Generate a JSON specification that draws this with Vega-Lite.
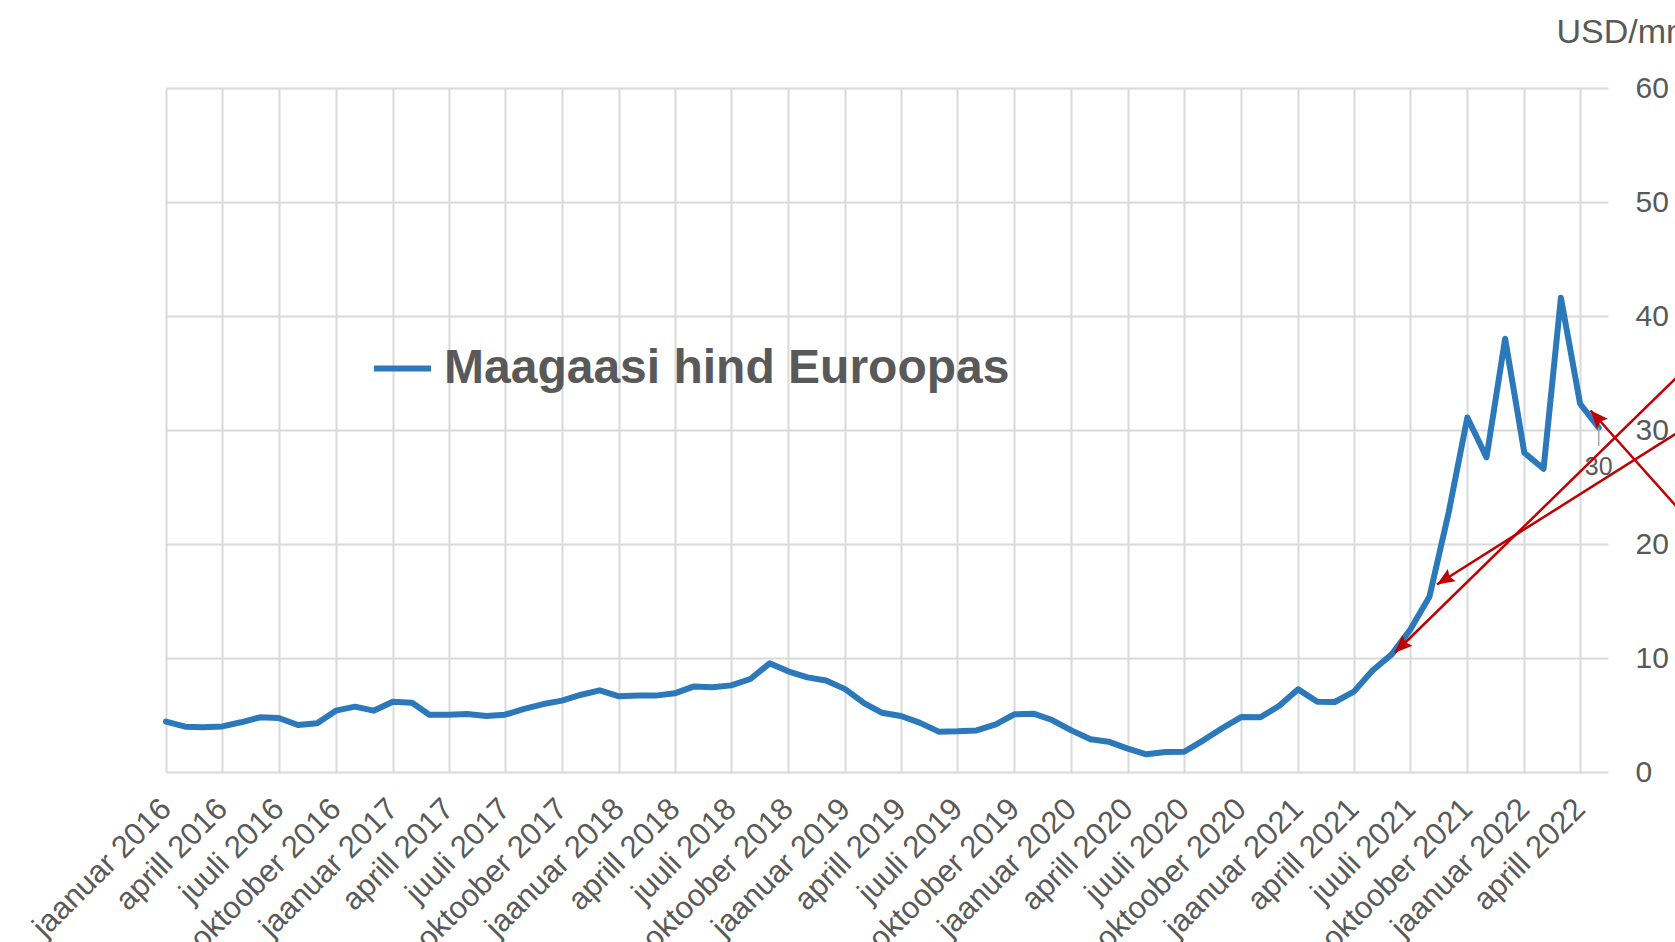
{
  "$schema": "https://vega.github.io/schema/vega-lite/v6.json",
  "width": 1442,
  "height": 684,
  "autosize": {"type": "none"},
  "padding": {"left": 166, "top": 88, "right": 67, "bottom": 170},
  "background": "white",
  "config": {"view": {"stroke": null}, "font": "Liberation Sans"},
  "datasets": {
    "prices": [
      {"date": "2016-01-01", "price": 4.42}, {"date": "2016-02-01", "price": 3.98}, {"date": "2016-03-01", "price": 3.92},
      {"date": "2016-04-01", "price": 4.0}, {"date": "2016-05-01", "price": 4.36}, {"date": "2016-06-01", "price": 4.8},
      {"date": "2016-07-01", "price": 4.74}, {"date": "2016-08-01", "price": 4.12}, {"date": "2016-09-01", "price": 4.27},
      {"date": "2016-10-01", "price": 5.38}, {"date": "2016-11-01", "price": 5.73}, {"date": "2016-12-01", "price": 5.38},
      {"date": "2017-01-01", "price": 6.17}, {"date": "2017-02-01", "price": 6.08}, {"date": "2017-03-01", "price": 5.03},
      {"date": "2017-04-01", "price": 5.03}, {"date": "2017-05-01", "price": 5.09}, {"date": "2017-06-01", "price": 4.91},
      {"date": "2017-07-01", "price": 5.03}, {"date": "2017-08-01", "price": 5.53}, {"date": "2017-09-01", "price": 5.96},
      {"date": "2017-10-01", "price": 6.26}, {"date": "2017-11-01", "price": 6.78}, {"date": "2017-12-01", "price": 7.16},
      {"date": "2018-01-01", "price": 6.64}, {"date": "2018-02-01", "price": 6.7}, {"date": "2018-03-01", "price": 6.7},
      {"date": "2018-04-01", "price": 6.9}, {"date": "2018-05-01", "price": 7.49}, {"date": "2018-06-01", "price": 7.43},
      {"date": "2018-07-01", "price": 7.6}, {"date": "2018-08-01", "price": 8.16}, {"date": "2018-09-01", "price": 9.53},
      {"date": "2018-10-01", "price": 8.83}, {"date": "2018-11-01", "price": 8.3}, {"date": "2018-12-01", "price": 8.02},
      {"date": "2019-01-01", "price": 7.27}, {"date": "2019-02-01", "price": 6.02}, {"date": "2019-03-01", "price": 5.2},
      {"date": "2019-04-01", "price": 4.91}, {"date": "2019-05-01", "price": 4.33}, {"date": "2019-06-01", "price": 3.54},
      {"date": "2019-07-01", "price": 3.57}, {"date": "2019-08-01", "price": 3.65}, {"date": "2019-09-01", "price": 4.18},
      {"date": "2019-10-01", "price": 5.06}, {"date": "2019-11-01", "price": 5.12}, {"date": "2019-12-01", "price": 4.56},
      {"date": "2020-01-01", "price": 3.65}, {"date": "2020-02-01", "price": 2.87}, {"date": "2020-03-01", "price": 2.66},
      {"date": "2020-04-01", "price": 2.05}, {"date": "2020-05-01", "price": 1.55}, {"date": "2020-06-01", "price": 1.75},
      {"date": "2020-07-01", "price": 1.78}, {"date": "2020-08-01", "price": 2.78}, {"date": "2020-09-01", "price": 3.86},
      {"date": "2020-10-01", "price": 4.82}, {"date": "2020-11-01", "price": 4.8}, {"date": "2020-12-01", "price": 5.79},
      {"date": "2021-01-01", "price": 7.25}, {"date": "2021-02-01", "price": 6.17}, {"date": "2021-03-01", "price": 6.14},
      {"date": "2021-04-01", "price": 7.05}, {"date": "2021-05-01", "price": 8.9}, {"date": "2021-06-01", "price": 10.32},
      {"date": "2021-07-01", "price": 12.5}, {"date": "2021-08-01", "price": 15.4}, {"date": "2021-09-01", "price": 22.8},
      {"date": "2021-10-01", "price": 31.1}, {"date": "2021-11-01", "price": 27.6}, {"date": "2021-12-01", "price": 38.0},
      {"date": "2022-01-01", "price": 28.0}, {"date": "2022-02-01", "price": 26.6}, {"date": "2022-03-01", "price": 41.6},
      {"date": "2022-04-01", "price": 32.3}, {"date": "2022-05-01", "price": 30.2}
    ],
    "arrows": [
      {"id": 1, "start": "2022-10-11", "startValue": 36.6, "tip": "2021-06-06", "tipValue": 10.46},
      {"id": 2, "start": "2022-10-11", "startValue": 30.99, "tip": "2021-08-13", "tipValue": 16.45},
      {"id": 3, "start": "2022-10-11", "startValue": 21.0, "tip": "2022-04-18", "tipValue": 31.71}
    ]
  },
  "layer": [
    {
      "data": {"name": "prices", "format": {"parse": {"date": "date"}}},
      "mark": {"type": "line", "strokeWidth": 6, "strokeJoin": "round", "strokeCap": "round"},
      "encoding": {
        "x": {
          "field": "date", "type": "temporal",
          "scale": {"type": "utc", "domain": [{"year": 2016, "month": 1, "date": 1, "utc": true}, {"year": 2022, "month": 5, "date": 16, "utc": true}]},
          "axis": {
            "title": null, "grid": true, "gridColor": "#D9D9D9", "gridWidth": 2, "domain": false, "ticks": false, "tickSize": 0,
            "labelAngle": -45, "labelAlign": "right", "labelBaseline": "middle", "labelPadding": 32, "labelFontSize": 31,
            "labelColor": "#595959", "labelOverlap": false, "labelBound": false, "labelFlush": false, "labelLimit": 1000,
            "values": [
              {"year": 2016, "month": 1, "date": 1, "utc": true}, {"year": 2016, "month": 4, "date": 1, "utc": true},
              {"year": 2016, "month": 7, "date": 1, "utc": true}, {"year": 2016, "month": 10, "date": 1, "utc": true},
              {"year": 2017, "month": 1, "date": 1, "utc": true}, {"year": 2017, "month": 4, "date": 1, "utc": true},
              {"year": 2017, "month": 7, "date": 1, "utc": true}, {"year": 2017, "month": 10, "date": 1, "utc": true},
              {"year": 2018, "month": 1, "date": 1, "utc": true}, {"year": 2018, "month": 4, "date": 1, "utc": true},
              {"year": 2018, "month": 7, "date": 1, "utc": true}, {"year": 2018, "month": 10, "date": 1, "utc": true},
              {"year": 2019, "month": 1, "date": 1, "utc": true}, {"year": 2019, "month": 4, "date": 1, "utc": true},
              {"year": 2019, "month": 7, "date": 1, "utc": true}, {"year": 2019, "month": 10, "date": 1, "utc": true},
              {"year": 2020, "month": 1, "date": 1, "utc": true}, {"year": 2020, "month": 4, "date": 1, "utc": true},
              {"year": 2020, "month": 7, "date": 1, "utc": true}, {"year": 2020, "month": 10, "date": 1, "utc": true},
              {"year": 2021, "month": 1, "date": 1, "utc": true}, {"year": 2021, "month": 4, "date": 1, "utc": true},
              {"year": 2021, "month": 7, "date": 1, "utc": true}, {"year": 2021, "month": 10, "date": 1, "utc": true},
              {"year": 2022, "month": 1, "date": 1, "utc": true}, {"year": 2022, "month": 4, "date": 1, "utc": true}
            ],
            "labelExpr": "['jaanuar','veebruar','märts','aprill','mai','juuni','juuli','august','september','oktoober','november','detsember'][utcmonth(datum.value)] + ' ' + utcyear(datum.value)"
          }
        },
        "y": {
          "field": "price", "type": "quantitative",
          "scale": {"domain": [0, 60], "nice": false, "zero": true},
          "axis": {
            "orient": "right", "title": "USD/mmBtu", "titleAngle": 0, "titleAlign": "left", "titleBaseline": "alphabetic",
            "titleX": -52, "titleY": -46, "titleFontSize": 34, "titleFontWeight": "normal", "titleColor": "#595959",
            "grid": true, "gridColor": "#D9D9D9", "gridWidth": 2, "domain": false, "ticks": false, "tickSize": 0,
            "values": [0, 10, 20, 30, 40, 50, 60], "labelPadding": 27, "labelFontSize": 30, "labelColor": "#595959",
            "labelAlign": "left", "labelBaseline": "middle", "labelBound": false, "labelFlush": false
          }
        },
        "color": {
          "datum": "Maagaasi hind Euroopas",
          "scale": {"range": ["#2B78BA"]},
          "legend": {
            "orient": "none", "legendX": 205, "legendY": 249, "title": null, "padding": 0,
            "symbolType": "stroke", "symbolSize": 3249, "symbolStrokeWidth": 6,
            "labelFontSize": 48, "labelFontWeight": "bold", "labelColor": "#595959", "labelOffset": 10, "labelLimit": 1000
          }
        }
      }
    },
    {
      "data": {"name": "prices", "format": {"parse": {"date": "date"}}},
      "transform": [{"filter": "time(datum.date) == utc(2022, 4, 1)"}],
      "mark": {"type": "rule", "color": "#A6A6A6", "strokeWidth": 1.5},
      "encoding": {
        "x": {"field": "date", "type": "temporal"},
        "y": {"field": "price", "type": "quantitative"},
        "y2": {"datum": 28.6}
      }
    },
    {
      "data": {"name": "prices", "format": {"parse": {"date": "date"}}},
      "transform": [{"filter": "time(datum.date) == utc(2022, 4, 1)"}],
      "mark": {"type": "text", "fontSize": 25, "color": "#595959", "align": "center", "baseline": "alphabetic", "dy": 47},
      "encoding": {
        "x": {"field": "date", "type": "temporal"},
        "y": {"field": "price", "type": "quantitative"},
        "text": {"field": "price", "type": "quantitative", "format": ".0f"}
      }
    },
    {
      "data": {"name": "arrows", "format": {"parse": {"start": "date", "tip": "date"}}},
      "mark": {"type": "rule", "color": "#C00000", "strokeWidth": 2.5},
      "encoding": {
        "x": {"field": "start", "type": "temporal"},
        "x2": {"field": "tip"},
        "y": {"field": "startValue", "type": "quantitative"},
        "y2": {"field": "tipValue"}
      }
    },
    {
      "data": {"name": "arrows", "format": {"parse": {"start": "date", "tip": "date"}}},
      "transform": [{"filter": "datum.id == 1"}],
      "mark": {"type": "point", "shape": "M0,0L-0.42,1L0,0.85L0.42,1Z", "size": 1225, "filled": true, "color": "#C00000", "opacity": 1, "angle": 225.7},
      "encoding": {
        "x": {"field": "tip", "type": "temporal"},
        "y": {"field": "tipValue", "type": "quantitative"}
      }
    },
    {
      "data": {"name": "arrows", "format": {"parse": {"start": "date", "tip": "date"}}},
      "transform": [{"filter": "datum.id == 2"}],
      "mark": {"type": "point", "shape": "M0,0L-0.42,1L0,0.85L0.42,1Z", "size": 1225, "filled": true, "color": "#C00000", "opacity": 1, "angle": 237.7},
      "encoding": {
        "x": {"field": "tip", "type": "temporal"},
        "y": {"field": "tipValue", "type": "quantitative"}
      }
    },
    {
      "data": {"name": "arrows", "format": {"parse": {"start": "date", "tip": "date"}}},
      "transform": [{"filter": "datum.id == 3"}],
      "mark": {"type": "point", "shape": "M0,0L-0.42,1L0,0.85L0.42,1Z", "size": 1225, "filled": true, "color": "#C00000", "opacity": 1, "angle": 318.2},
      "encoding": {
        "x": {"field": "tip", "type": "temporal"},
        "y": {"field": "tipValue", "type": "quantitative"}
      }
    }
  ]
}
